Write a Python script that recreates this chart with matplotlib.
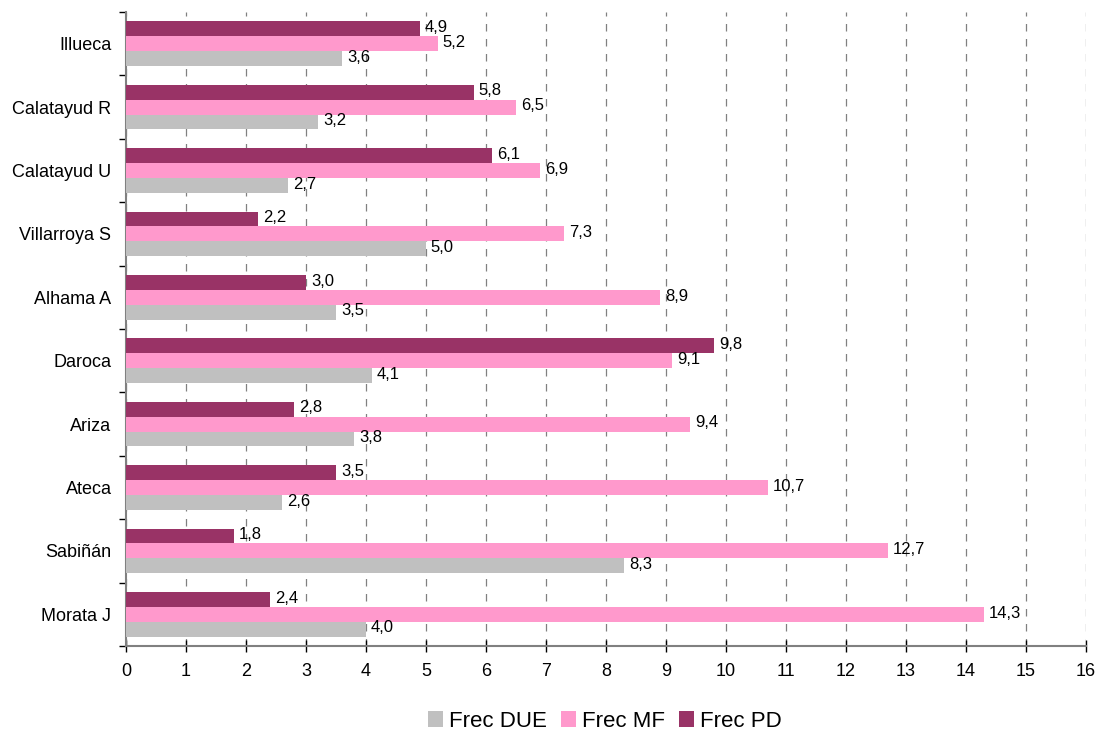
import numpy as np
import matplotlib.pyplot as plt
from matplotlib.ticker import FixedLocator, NullFormatter

plt.rcParams['font.family'] = ['Liberation Sans', 'DejaVu Sans']

categories = ["Illueca", "Calatayud R", "Calatayud U", "Villarroya S", "Alhama A",
              "Daroca", "Ariza", "Ateca", "Sabiñán", "Morata J"]
frec_due = [3.6, 3.2, 2.7, 5.0, 3.5, 4.1, 3.8, 2.6, 8.3, 4.0]
frec_mf = [5.2, 6.5, 6.9, 7.3, 8.9, 9.1, 9.4, 10.7, 12.7, 14.3]
frec_pd = [4.9, 5.8, 6.1, 2.2, 3.0, 9.8, 2.8, 3.5, 1.8, 2.4]

series = [("Frec DUE", frec_due, "#C0C0C0"),
          ("Frec MF", frec_mf, "#FF99CC"),
          ("Frec PD", frec_pd, "#993366")]

fig = plt.figure(figsize=(10.99, 7.33), dpi=100)
ax = fig.add_axes([0.1147, 0.1187, 0.8735, 0.865])

n = len(categories)
# top category first
ypos = np.arange(n)[::-1]
h = 0.235
offsets = [-h, 0, h]  # DUE bottom, MF middle, PD top

for (name, vals, col), off in zip(series, offsets):
    bars = ax.barh(ypos + off, vals, height=h, color=col, label=name, zorder=3)
    for b, v in zip(bars, vals):
        ax.text(b.get_width() + 0.08, b.get_y() + b.get_height() / 2 + 0.02,
                f"{v:.1f}".replace(".", ","), va="center", ha="left",
                fontsize=12, zorder=4)

ax.set_xlim(0, 16)
ax.set_ylim(-0.5, n - 0.5)
ax.set_xticks(range(0, 17))
ax.tick_params(axis="x", direction="inout", length=8, width=1, color="#000000",
               labelsize=13, pad=8)
ax.xaxis.grid(True, linestyle=(0, (6, 6)), color="#808080", linewidth=0.9, zorder=0)

ax.set_yticks(ypos)
ax.set_yticklabels(categories, fontsize=13)
ax.tick_params(axis="y", which="major", length=0, pad=10.5)
ax.yaxis.set_minor_locator(FixedLocator(np.arange(-0.5, n, 1.0)))
ax.yaxis.set_minor_formatter(NullFormatter())
ax.tick_params(axis="y", which="minor", length=5, width=1, color="#000000", direction="out")

for s in ["top", "right"]:
    ax.spines[s].set_visible(False)
for s in ["left", "bottom"]:
    ax.spines[s].set_color("#808080")
    ax.spines[s].set_linewidth(1.5)

fig.legend(loc="center", bbox_to_anchor=(0.5505, 0.016), ncol=3, frameon=False,
           fontsize=16, handlelength=0.68, handleheight=0.68, handletextpad=0.27,
           columnspacing=0.63, borderpad=0, borderaxespad=0)

fig.savefig("out.png", dpi=100)
